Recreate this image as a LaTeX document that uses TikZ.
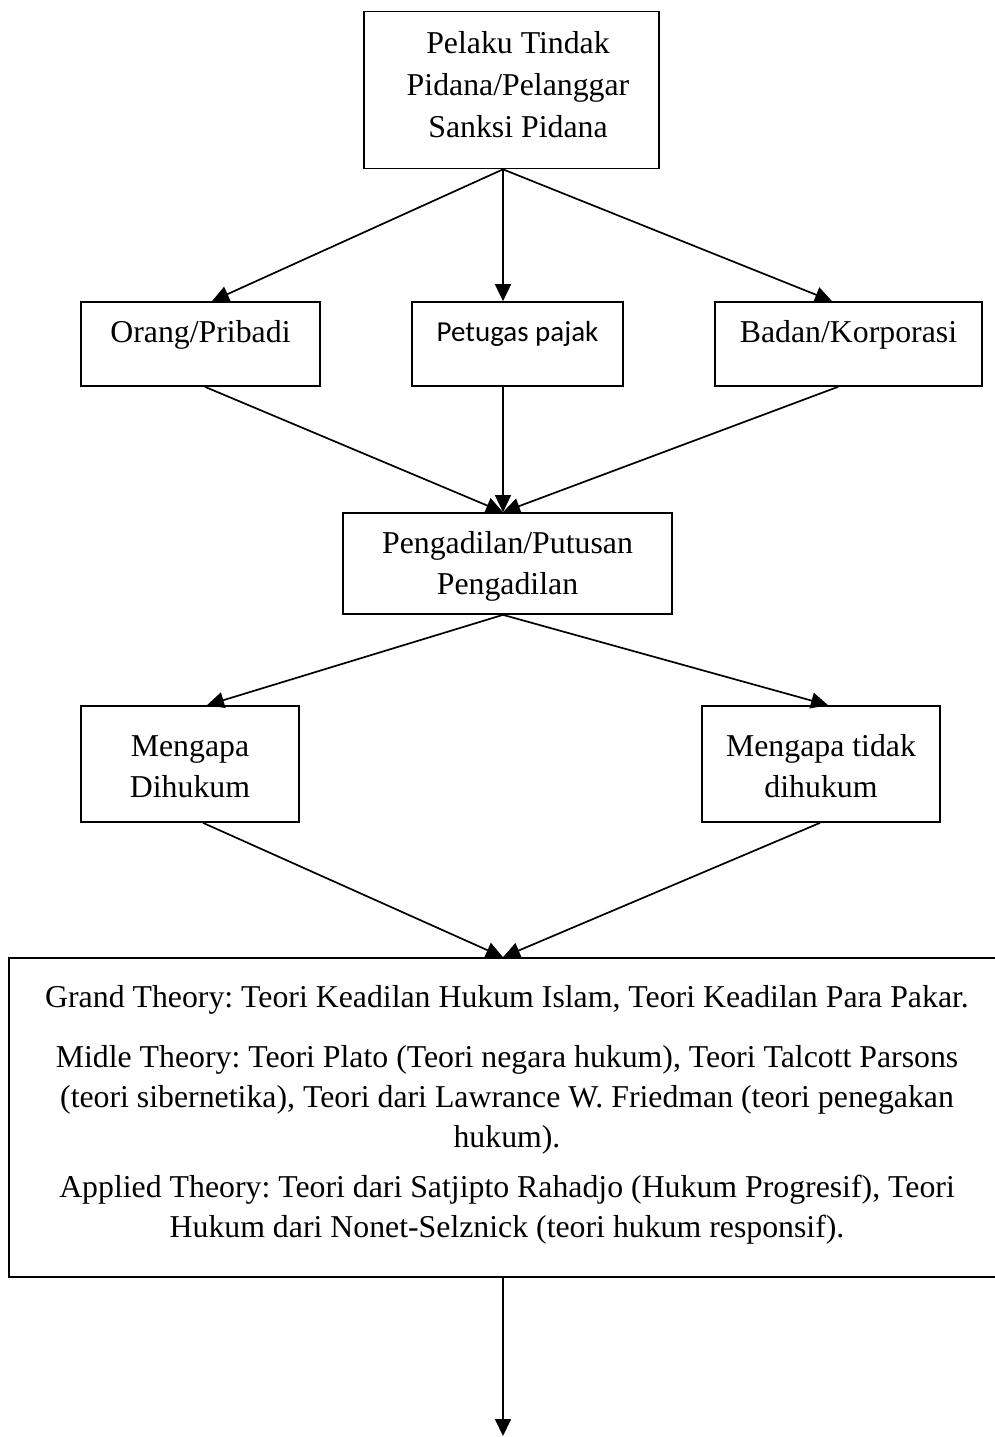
\documentclass[tikz,border=0pt]{standalone}
\usepackage{fontspec}
\setmainfont{Liberation Serif}
\newfontfamily\calib{Carlito}
\usetikzlibrary{arrows.meta,calc}
\frenchspacing
\begin{document}
\begin{tikzpicture}[x=1pt,y=-1pt,
  box/.style={draw, line width=1.7pt, inner sep=0pt},
  txt/.style={anchor=base, inner sep=0pt, font=\fontsize{31.8}{41}\selectfont},
  ctxt/.style={anchor=base, inner sep=0pt, font=\calib\fontsize{29}{36}\selectfont},
  arr/.style={line width=1.7pt, -{Triangle[length=17pt,width=16pt]}}]
\useasboundingbox (0,0) rectangle (995,1437);
\clip (0,0) rectangle (995,1437);
\fill[white] (0,0) rectangle (995,1437);
% boxes
\node[box, minimum width=295pt, minimum height=157pt] (top) at (511.5,90) {};
\node[box, minimum width=239pt, minimum height=84pt] (orang) at (200.5,344) {};
\node[box, minimum width=211pt, minimum height=84pt] (pet) at (517.5,344) {};
\node[box, minimum width=267pt, minimum height=84pt] (badan) at (848.5,344) {};
\node[box, minimum width=329pt, minimum height=101pt] (peng) at (507.5,563.5) {};
\node[box, minimum width=218pt, minimum height=116pt] (meng) at (190,764) {};
\node[box, minimum width=238pt, minimum height=116pt] (tidak) at (821,764) {};
\node[box, minimum width=1001pt, minimum height=319pt] (big) at (509.5,1117.5) {};
\coordinate (end) at (503,1436);
% texts
\node[txt] (t1) at (518,53) {Pelaku Tindak};
\node[txt] (t2) at (518,95) {Pidana/Pelanggar};
\node[txt] (t3) at (518,137) {Sanksi Pidana};
\node[txt] (to) at (200.5,342) {Orang/Pribadi};
\node[ctxt] (tp) at (517.5,341) {Petugas pajak};
\node[txt] (tb) at (848.5,342) {Badan/Korporasi};
\node[txt] (tg1) at (507.5,553) {Pengadilan/Putusan};
\node[txt] (tg2) at (507.5,594) {Pengadilan};
\node[txt] (tm1) at (190,756) {Mengapa};
\node[txt] (tm2) at (190,797) {Dihukum};
\node[txt] (tt1) at (821,756) {Mengapa tidak};
\node[txt] (tt2) at (821,797) {dihukum};
\node[txt] (b1) at (507,1007) {Grand Theory: Teori Keadilan Hukum Islam, Teori Keadilan Para Pakar.};
\node[txt] (b2) at (507,1067) {Midle Theory: Teori Plato (Teori negara hukum), Teori Talcott Parsons};
\node[txt] (b3) at (507,1107) {(teori sibernetika), Teori dari Lawrance W. Friedman (teori penegakan};
\node[txt] (b4) at (507,1147) {hukum).};
\node[txt] (b5) at (507,1197) {Applied Theory: Teori dari Satjipto Rahadjo (Hukum Progresif), Teori};
\node[txt] (b6) at (507,1237) {Hukum dari Nonet-Selznick (teori hukum responsif).};
% connectors
\draw[arr] ([xshift=-8.5pt]top.south) -- ([xshift=11.5pt]orang.north);
\draw[arr] ([xshift=-8.5pt]top.south) -- ([xshift=-14.5pt]pet.north);
\draw[arr] ([xshift=-8.5pt]top.south) -- ([xshift=-16.5pt]badan.north);
\draw[arr] ([xshift=4.5pt]orang.south) -- ([xshift=-4.5pt]peng.north);
\draw[arr] ([xshift=-14.5pt]pet.south) -- ([xshift=-4.5pt]peng.north);
\draw[arr] ([xshift=-10.5pt]badan.south) -- ([xshift=-4.5pt]peng.north);
\draw[arr] ([xshift=-4.5pt]peng.south) -- ([xshift=17pt]meng.north);
\draw[arr] ([xshift=-4.5pt]peng.south) -- ([xshift=7pt]tidak.north);
\draw[arr] ([xshift=13pt]meng.south) -- ([xshift=-6.5pt]big.north);
\draw[arr] ([xshift=-1pt]tidak.south) -- ([xshift=-6.5pt]big.north);
\draw[arr] ([xshift=-6.5pt]big.south) -- (end);
\end{tikzpicture}
\end{document}
